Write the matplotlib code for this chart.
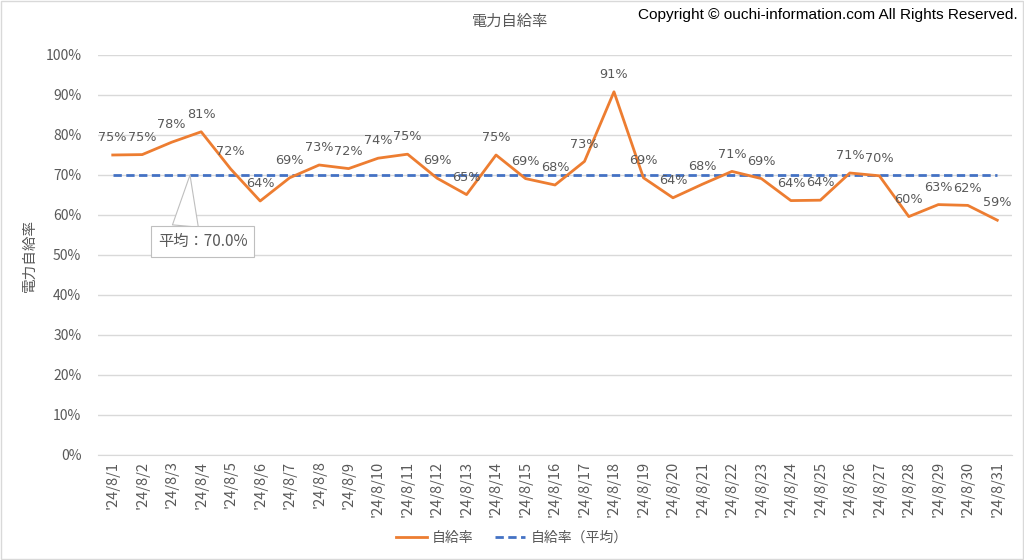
import matplotlib
matplotlib.use("Agg")
import matplotlib.pyplot as plt
from matplotlib.lines import Line2D
from matplotlib.patches import Rectangle

plt.rcParams['font.family'] = ['Noto Sans CJK JP', 'DejaVu Sans']

days = [f"'24/8/{d}" for d in range(1, 32)]
rate = [75.0, 75.1, 78.2, 80.8, 71.5, 63.5, 69.3, 72.5, 71.6, 74.2,
        75.2, 69.2, 65.1, 75.0, 69.1, 67.5, 73.4, 90.8, 69.3, 64.3,
        67.7, 70.9, 69.1, 63.6, 63.7, 70.5, 69.8, 59.6, 62.6, 62.4, 58.7]
avg_rate = 70.0
label_rate = [75, 75, 78, 81, 72, 64, 69, 73, 72, 74, 75, 69, 65, 75, 69, 68,
              73, 91, 69, 64, 68, 71, 69, 64, 64, 71, 70, 60, 63, 62, 59]

orange = '#ED7D31'
blue = '#4472C4'
txt = '#595959'
grid = '#D9D9D9'

fig = plt.figure(figsize=(10.24, 5.6), dpi=100)
fig.patches.append(Rectangle((0.001, 0.001), 0.998, 0.997, transform=fig.transFigure,
                             fill=False, edgecolor='#D9D9D9', linewidth=1))
ax = fig.add_axes([0.0957, 0.1875, 0.8926, 0.7143])

x = list(range(len(days)))
ax.plot(x, rate, color=orange, linewidth=2, label='自給率', zorder=3)
ax.plot(x, [avg_rate] * len(x), color=blue, linewidth=2, linestyle=(0, (3, 1.6)),
        label='自給率（平均）', zorder=2)

for xi, yi, lab in zip(x, rate, label_rate):
    ax.annotate(f'{lab}%', (xi, yi), xytext=(0, 12.5), textcoords='offset points',
                ha='center', va='center', fontsize=9.3, color=txt, zorder=4,
                family='DejaVu Sans')

ax.set_xlim(-0.5, len(days) - 0.5)
ax.set_ylim(0, 100)
ax.set_yticks(range(0, 101, 10))
ax.set_yticklabels([f'{v}%' for v in range(0, 101, 10)], fontsize=10, color=txt)
ax.set_xticks(x)
ax.set_xticklabels(days, rotation=90, fontsize=10.5, color=txt)
ax.tick_params(axis='y', length=0, pad=12)
ax.tick_params(axis='x', length=0, pad=4)
ax.grid(axis='y', color=grid, linewidth=1)
ax.set_axisbelow(True)
for s in ['top', 'right', 'left']:
    ax.spines[s].set_visible(False)
ax.spines['bottom'].set_color(grid)

ax.set_ylabel('電力自給率', fontsize=10.5, color=txt, labelpad=6.5)

# callout for the average
ax.annotate('平均：70.0%', xy=(2.62, avg_rate), xytext=(3.05, 53.3),
            ha='center', va='center', fontsize=11, color=txt,
            bbox=dict(boxstyle='square,pad=0.45', fc='white', ec='#BFBFBF', lw=0.8),
            arrowprops=dict(arrowstyle='wedge,tail_width=1.7', fc='white',
                            ec='#BFBFBF', lw=0.8, shrinkA=0, shrinkB=0,
                            relpos=(0.3, 1.0)),
            zorder=5)

fig.text(0.498, 0.962, '電力自給率', ha='center', va='center', fontsize=11, color=txt)
fig.text(0.994, 0.974, 'Copyright © ouchi-information.com All Rights Reserved.',
         ha='right', va='center', fontsize=11.1, color='black',
         family=['Liberation Sans', 'DejaVu Sans'])

handles = [Line2D([], [], color=orange, linewidth=2),
           Line2D([], [], color=blue, linewidth=2, linestyle=(0, (3, 1.6)))]
fig.legend(handles, ['自給率', '自給率（平均）'], loc='center', bbox_to_anchor=(0.5, 0.04),
           ncol=2, frameon=False, fontsize=10, labelcolor=txt, handlelength=2.2,
           columnspacing=1.5, handletextpad=0.4)

fig.savefig('out.png', dpi=100, facecolor='white')
